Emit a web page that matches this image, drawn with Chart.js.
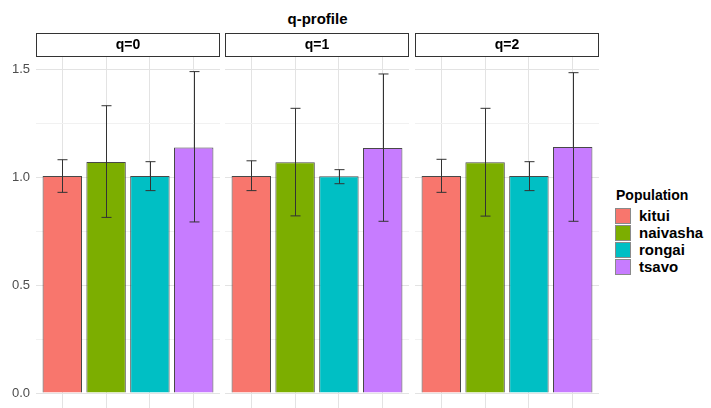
<!DOCTYPE html>
<html>
<head>
<meta charset="utf-8">
<script src="https://cdn.jsdelivr.net/npm/chart.js@4/dist/chart.umd.min.js"></script>
<style>
  body { margin: 0; background: #fff; width: 711px; height: 408px; overflow: hidden; position: relative; font-family: "Liberation Sans", Arial, sans-serif; }
  canvas { position: absolute; }
  #title { position: absolute; left: 0; width: 635px; top: 10px; text-align: center; font-weight: bold; font-size: 15px; color: #000; }
  #legend { position: absolute; left: 615px; top: 187px; }
  #legend .lt { font-weight: bold; font-size: 14px; margin-bottom: 4px; margin-left: 1px; }
  #legend .row { height: 17px; display: flex; align-items: center; }
  #legend .box { width: 14px; height: 14px; border: 1px solid #8a8a8a; margin-right: 8px; }
  #legend .lbl { font-weight: bold; font-size: 15px; }
</style>
</head>
<body>
<div id="title">q-profile</div>
<canvas id="p0" width="220" height="375" style="left:0;top:33px"></canvas>
<canvas id="p1" width="184" height="375" style="left:225px;top:33px"></canvas>
<canvas id="p2" width="184" height="375" style="left:415px;top:33px"></canvas>
<div id="legend"></div>
<script>
// populations and facets
const populations = ["kitui", "naivasha", "rongai", "tsavo"];
const facets = ["q=0", "q=1", "q=2"];
const colors = ["#F8766D", "#7CAE00", "#00BFC4", "#C77CFF"];

// values (mean, lower and upper error bar)
const meanQ0 = [1.005, 1.069, 1.005, 1.137];
const lowQ0 = [0.929, 0.813, 0.937, 0.792];
const highQ0 = [1.080, 1.330, 1.071, 1.488];

const meanQ1 = [1.005, 1.068, 1.003, 1.134];
const lowQ1 = [0.937, 0.820, 0.969, 0.795];
const highQ1 = [1.075, 1.318, 1.034, 1.477];

const meanQ2 = [1.005, 1.068, 1.005, 1.139];
const lowQ2 = [0.929, 0.819, 0.937, 0.795];
const highQ2 = [1.082, 1.318, 1.071, 1.483];

const yTicks = [0, 0.25, 0.5, 0.75, 1.0, 1.25, 1.5];
const yLabels = ["0.0", "0.5", "1.0", "1.5"];

const panels = [
  { id: "p0", mean: meanQ0, low: lowQ0, high: highQ0 },
  { id: "p1", mean: meanQ1, low: lowQ1, high: highQ1 },
  { id: "p2", mean: meanQ2, low: lowQ2, high: highQ2 },
];

// strip on top + error bars
const facetPlugin = {
  id: "facet",
  afterDatasetsDraw(chart, args, opts) {
    const ctx = chart.ctx;
    const y = chart.scales.y;
    const meta = chart.getDatasetMeta(0);
    ctx.save();
    ctx.strokeStyle = "#333";
    ctx.lineWidth = 1;
    meta.data.forEach((bar, i) => {
      const x = Math.round(bar.x) + 0.5;
      const top = y.getPixelForValue(opts.high[i]);
      const bot = y.getPixelForValue(opts.low[i]);
      ctx.beginPath();
      ctx.moveTo(x, top); ctx.lineTo(x, bot);
      ctx.moveTo(x - 5, top); ctx.lineTo(x + 5, top);
      ctx.moveTo(x - 5, bot); ctx.lineTo(x + 5, bot);
      ctx.stroke();
    });
    // strip
    const a = chart.chartArea;
    ctx.fillStyle = "#fff";
    ctx.fillRect(a.left, 0, a.right - a.left, 23);
    ctx.strokeStyle = "#333";
    ctx.strokeRect(a.left + 0.5, 0.5, a.right - a.left - 1, 23);
    ctx.fillStyle = "#000";
    ctx.font = "bold 14px 'Liberation Sans', Arial";
    ctx.textAlign = "center";
    ctx.textBaseline = "middle";
    ctx.fillText(opts.label, (a.left + a.right) / 2, 12.5);
    ctx.restore();
  }
};

panels.forEach((p, k) => {
  new Chart(document.getElementById(p.id), {
    type: "bar",
    data: {
      datasets: [{
        data: p.mean.map((v, i) => ({ x: i + 1, y: v })),
        backgroundColor: colors,
        borderColor: "rgba(40,40,40,0.85)",
        borderWidth: 1,
        barPercentage: 0.9,
        categoryPercentage: 1,
      }]
    },
    options: {
      responsive: false,
      animation: false,
      layout: { padding: { top: 24, left: 0, right: 0, bottom: 0 } },
      plugins: {
        legend: { display: false },
        tooltip: { enabled: false },
        facet: { label: facets[k], low: p.low, high: p.high },
      },
      scales: {
        x: {
          type: "linear",
          offset: false,
          min: 0.4, max: 4.6,
          afterBuildTicks: s => { s.ticks = [1, 2, 3, 4].map(v => ({ value: v })); },
          afterFit: s => { s.height = 0; s.paddingLeft = 0; s.paddingRight = 0; },
          ticks: { display: false },
          border: { display: false },
          grid: { color: "#e3e3e3", drawTicks: false, offset: false },
        },
        y: {
          min: -0.0694, max: 1.5556,
          afterBuildTicks: s => { s.ticks = yTicks.map(v => ({ value: v })); },
          afterFit: s => { s.width = k === 0 ? 36 : 0; s.paddingTop = 0; s.paddingBottom = 0; },
          ticks: {
            display: k === 0,
            padding: 6,
            color: "#4d4d4d",
            font: { family: "'Liberation Sans', Arial", size: 13 },
            callback: v => (Math.abs(v * 2 - Math.round(v * 2)) < 1e-6 ? yLabels[Math.round(v * 2)] : ""),
          },
          border: { display: false },
          grid: {
            drawTicks: false,
            color: c => (Math.abs(c.tick.value * 2 - Math.round(c.tick.value * 2)) < 1e-6 ? "#e3e3e3" : "#f1f1f1"),
          },
        },
      },
    },
    plugins: [facetPlugin],
  });
});

// legend
const lg = document.getElementById("legend");
let html = '<div class="lt">Population</div>';
populations.forEach((name, i) => {
  html += '<div class="row"><div class="box" style="background:' + colors[i] + '"></div><div class="lbl">' + name + '</div></div>';
});
lg.innerHTML = html;
</script>
</body>
</html>
